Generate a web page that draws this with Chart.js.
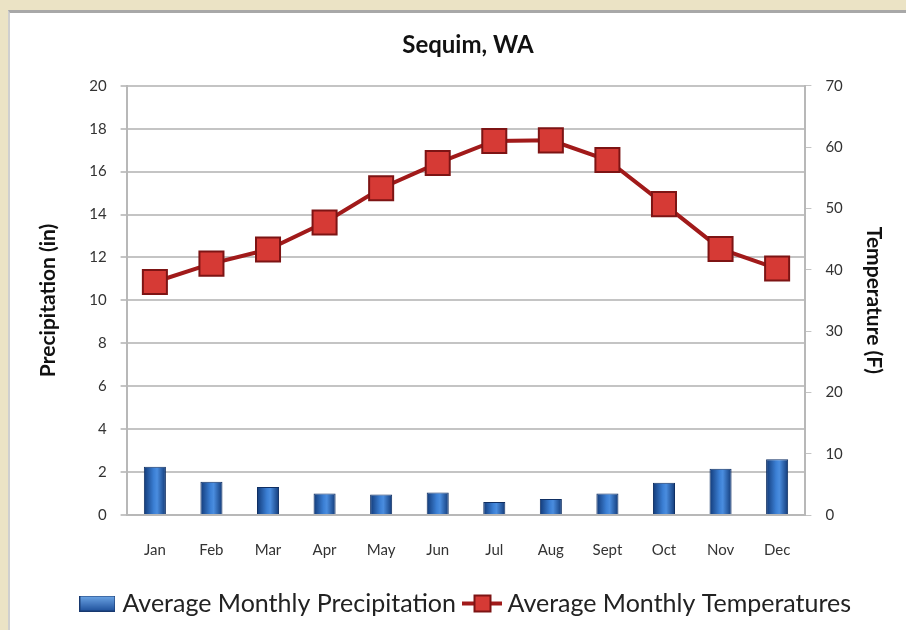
<!DOCTYPE html>
<html>
<head>
<meta charset="utf-8">
<script src="https://cdn.jsdelivr.net/npm/chart.js@4.4.1/dist/chart.umd.min.js"></script>
<style>
  html, body { margin: 0; padding: 0; background: #ebe3c5; }
  #card { position: absolute; left: 8px; top: 10px; width: 898px; height: 620px;
          background: #fff; border-top: 3px solid #a8a8a8; border-left: 2px solid #cfcfcf; box-sizing: border-box; }
  canvas { display: block; }
</style>
</head>
<body>
<div id="card"><canvas id="miGrafico" width="896" height="617"></canvas></div>
<script>
const meses = ['Jan', 'Feb', 'Mar', 'Apr', 'May', 'Jun', 'Jul', 'Aug', 'Sept', 'Oct', 'Nov', 'Dec'];
const precipitacion = [2.25, 1.55, 1.3, 1.0, 0.95, 1.05, 0.6, 0.75, 1.0, 1.5, 2.15, 2.6];
const temperatura = [38.0, 41.0, 43.3, 47.7, 53.3, 57.4, 61.0, 61.1, 57.9, 50.7, 43.4, 40.2];

const fuente = "Lato, 'Liberation Sans', sans-serif";

// iconos de la leyenda
function iconoBarra() {
    const c = document.createElement('canvas');
    c.width = 36; c.height = 16;
    const g = c.getContext('2d');
    const gr = g.createLinearGradient(0, 0, 0, 16);
    gr.addColorStop(0, '#6fa8e8');
    gr.addColorStop(1, '#1d4f9a');
    g.fillStyle = gr;
    g.fillRect(1, 1, 34, 14);
    g.strokeStyle = '#17386e';
    g.strokeRect(0.5, 0.5, 35, 15);
    return c;
}
function iconoLinea() {
    const c = document.createElement('canvas');
    c.width = 40; c.height = 22;
    const g = c.getContext('2d');
    g.strokeStyle = '#a11a1a';
    g.lineWidth = 4;
    g.beginPath(); g.moveTo(0, 11); g.lineTo(40, 11); g.stroke();
    g.fillStyle = '#d63a35';
    g.fillRect(12, 3, 16, 16);
    g.strokeStyle = '#7d1414';
    g.lineWidth = 2;
    g.strokeRect(12, 3, 16, 16);
    return c;
}

function degradado(context) {
    const chart = context.chart;
    const x = chart.scales.x;
    if (!x || context.dataIndex === undefined) return '#2d6cc0';
    const cx = x.getPixelForValue(context.dataIndex);
    const w = 22;
    const gr = chart.ctx.createLinearGradient(cx - w / 2, 0, cx + w / 2, 0);
    gr.addColorStop(0, '#123a78');
    gr.addColorStop(0.45, '#3b7fd4');
    gr.addColorStop(0.6, '#4a8ddf');
    gr.addColorStop(1, '#123a78');
    return gr;
}

const contenedor = document.getElementById('miGrafico');
const miGrafico = new Chart(contenedor, {
    data: {
        labels: meses,
        datasets: [{
            type: 'line',
            label: 'Average Monthly Temperatures',
            data: temperatura,
            yAxisID: 'y1',
            borderColor: '#a11a1a',
            borderWidth: 4,
            backgroundColor: '#d63a35',
            pointStyle: 'rect',
            pointRadius: 17,
            pointHoverRadius: 17,
            pointBackgroundColor: '#d63a35',
            pointBorderColor: '#7d1414',
            pointBorderWidth: 2,
            tension: 0,
            order: 0
        }, {
            type: 'bar',
            label: 'Average Monthly Precipitation',
            data: precipitacion,
            yAxisID: 'y',
            backgroundColor: degradado,
            borderColor: '#0f2f63',
            borderWidth: 1,
            barPercentage: 0.39,
            categoryPercentage: 1,
            order: 1
        }]
    },
    options: {
        responsive: false,
        animation: false,
        layout: { padding: { left: 22, right: 2, top: 14, bottom: 4 } },
        plugins: {
            title: {
                display: true,
                text: 'Sequim, WA',
                color: '#111',
                font: { family: fuente, size: 24, weight: 'bold' },
                padding: { top: 4, bottom: 26 }
            },
            legend: {
                position: 'bottom',
                labels: {
                    color: '#222',
                    font: { family: fuente, size: 25 },
                    padding: 14,
                    usePointStyle: true,
                    generateLabels: function (chart) {
                        return [
                            { text: 'Average Monthly Precipitation', pointStyle: iconoBarra(), datasetIndex: 1, fontColor: '#222', lineWidth: 0 },
                            { text: 'Average Monthly Temperatures', pointStyle: iconoLinea(), datasetIndex: 0, fontColor: '#222', lineWidth: 0 }
                        ];
                    }
                }
            },
            tooltip: { enabled: false }
        },
        scales: {
            x: {
                grid: { display: false, drawTicks: true },
                border: { color: '#b8b8b8', width: 2 },
                ticks: { color: '#333', font: { family: fuente, size: 15 }, padding: 18 }
            },
            y: {
                position: 'left',
                min: 0, max: 20,
                ticks: { stepSize: 2, color: '#333', font: { family: fuente, size: 15 }, padding: 14 },
                grid: { color: '#c4c4c4', lineWidth: 2, tickLength: 6 },
                border: { color: '#b8b8b8', width: 2 },
                title: { display: true, text: 'Precipitation (in)', color: '#111', font: { family: fuente, size: 21, weight: 'bold' }, padding: { bottom: 14 } }
            },
            y1: {
                position: 'right',
                min: 0, max: 70,
                ticks: { stepSize: 10, color: '#333', font: { family: fuente, size: 15 }, padding: 14 },
                grid: { drawOnChartArea: false, tickLength: 6, color: '#c4c4c4' },
                border: { color: '#b8b8b8', width: 2 },
                title: { display: true, text: 'Temperature (F)', color: '#111', font: { family: fuente, size: 21, weight: 'bold' }, padding: { top: 18 } }
            }
        }
    }
});
</script>
</body>
</html>
